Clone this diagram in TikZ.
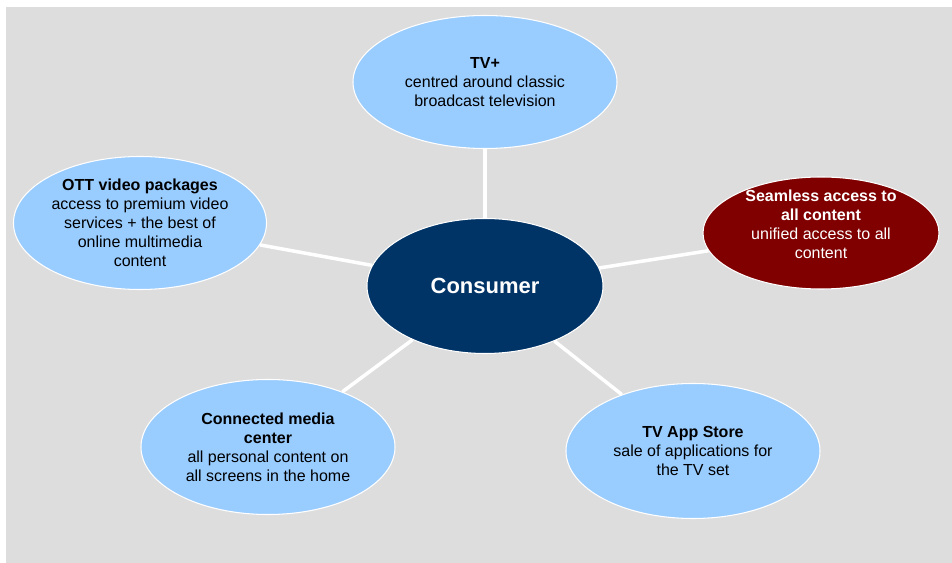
\documentclass[tikz,border=0pt]{standalone}
\usepackage{fontspec}
\setmainfont{Liberation Sans}
\usetikzlibrary{shapes.geometric}
\definecolor{bggray}{RGB}{221,221,221}
\definecolor{lightblue}{RGB}{153,204,255}
\definecolor{navyblue}{RGB}{0,51,102}
\definecolor{darkred}{RGB}{128,0,0}

\begin{document}
\begin{tikzpicture}[
		bubble/.style={ellipse, draw=white, line width=0.6pt, fill=lightblue, inner sep=0pt},
		txt/.style={align=center, inner sep=0pt, font=\fontsize{9.1}{10.8}\selectfont},
		spoke/.style={draw=white, line width=2pt}]
		\useasboundingbox (-9.7,-5.54) rectangle (9.34,5.72);
		\fill[bggray] (-9.58,-5.54) rectangle (9.34,5.58);
		%
		\node[bubble, fill=navyblue, minimum width=4.72cm, minimum height=2.7cm,
			label={[txt, white, font=\fontsize{12.5}{15}\selectfont\bfseries]center:Consumer}] (consumer) at (0,0) {};
		\node[bubble, minimum width=5.28cm, minimum height=2.66cm,
			label={[txt]center:{\textbf{TV+}\\centred around classic\\broadcast television}}] (tvplus) at (0,4.08) {};
		\node[bubble, minimum width=5.06cm, minimum height=2.66cm,
			label={[txt]center:{\textbf{OTT video packages}\\access to premium video\\services + the best of\\online multimedia\\content}}] (ott) at (-6.9,1.26) {};
		\node[bubble, fill=darkred, minimum width=4.72cm, minimum height=2.24cm,
			label={[txt, white, yshift=0.17cm]center:{\textbf{Seamless access to}\\\textbf{all content}\\unified access to all\\content}}] (seamless) at (6.72,1.06) {};
		\node[bubble, minimum width=5.08cm, minimum height=2.7cm,
			label={[txt]center:{\textbf{Connected media}\\\textbf{center}\\all personal content on\\all screens in the home}}] (media) at (-4.34,-3.22) {};
		\node[bubble, minimum width=5.08cm, minimum height=2.7cm,
			label={[txt]center:{\textbf{TV App Store}\\sale of applications for\\the TV set}}] (appstore) at (4.16,-3.3) {};
		%
		\draw[spoke] (consumer) -- (tvplus);
		\draw[spoke] (consumer) -- (ott);
		\draw[spoke] (consumer) -- (seamless);
		\draw[spoke] (consumer) -- (media);
		\draw[spoke] (consumer) -- (appstore);
\end{tikzpicture}
\end{document}
